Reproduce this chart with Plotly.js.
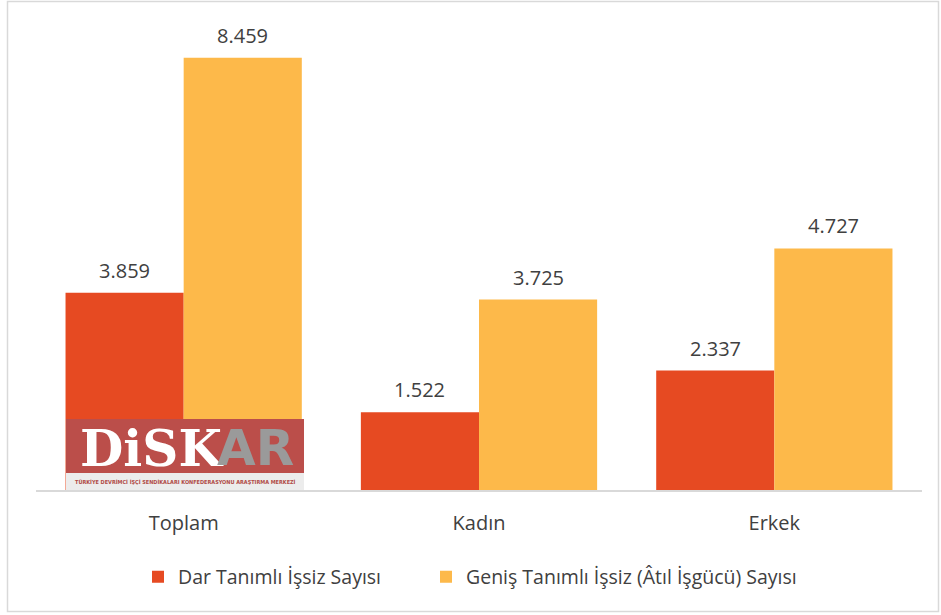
<!DOCTYPE html>
<html>
<head>
<meta charset="utf-8">
<script src="https://cdn.plot.ly/plotly-3.0.1.min.js"></script>
<style>
html,body{margin:0;padding:0;background:#fff;}
#chart{width:941px;height:615px;}
</style>
</head>
<body>
<div id="chart"></div>
<script>
const categories = ["Toplam", "Kadın", "Erkek"];
const seriesNames = ["Dar Tanımlı İşsiz Sayısı", "Geniş Tanımlı İşsiz (Âtıl İşgücü) Sayısı"];
const darValues = [3859, 1522, 2337];
const genisValues = [8459, 3725, 4727];
const colors = ["#E64A22", "#FDB94A"];

const FONT = "Open Sans, Noto Sans, sans-serif";
const TXT = "#404040";

const traces = [
  {type: "bar", name: seriesNames[0], x: categories, y: darValues, marker: {color: colors[0]}, hoverinfo: "none", legend: "legend"},
  {type: "bar", name: seriesNames[1], x: categories, y: genisValues, marker: {color: colors[1]}, hoverinfo: "none", legend: "legend2"}
];

const fmt = v => v.toLocaleString("de-DE");
const annotations = [];
[darValues, genisValues].forEach((vals, s) => {
  vals.forEach((v, i) => {
    annotations.push({
      x: i + (s === 0 ? -0.2 : 0.2), y: v, xref: "x", yref: "y",
      text: fmt(v), showarrow: false, yanchor: "bottom", yshift: 7,
      font: {family: FONT, size: 20, color: TXT}
    });
  });
});

// logo watermark
const px = v => (v - 36) / 886;
const py = v => (490 - v) / 460;
annotations.push({
  xref: "paper", yref: "paper", x: px(151), y: py(448), xanchor: "center", yanchor: "middle",
  text: "<b>DiSK</b>",
  showarrow: false, font: {family: "DejaVu Serif, serif", size: 50, color: "#ffffff"}
});
annotations.push({
  xref: "paper", yref: "paper", x: px(255), y: py(448), xanchor: "center", yanchor: "middle",
  text: "<b>AR</b>",
  showarrow: false, font: {family: "DejaVu Sans, sans-serif", size: 50, color: "#9a9a9a"}
});
annotations.push({
  xref: "paper", yref: "paper", x: px(185), y: py(482), xanchor: "center", yanchor: "middle",
  text: "<b>TÜRKİYE DEVRİMCİ İŞÇİ SENDİKALARI KONFEDERASYONU ARAŞTIRMA MERKEZİ</b>",
  showarrow: false, font: {family: "DejaVu Sans Condensed, sans-serif", size: 5.5, color: "#B04A45"}
});

const shapes = [
  {type: "rect", xref: "paper", yref: "paper", x0: px(66), x1: px(304), y0: py(473), y1: py(419),
   fillcolor: "#BB4E4A", line: {width: 0}, layer: "above"},
  {type: "rect", xref: "paper", yref: "paper", x0: px(66), x1: px(304), y0: py(490), y1: py(473),
   fillcolor: "#ECECEC", line: {width: 0}, layer: "above"},
  {type: "rect", xref: "paper", yref: "paper", x0: px(7.5), x1: px(938.5), y0: py(611.5), y1: py(1.5),
   fillcolor: "rgba(0,0,0,0)", line: {width: 1.5, color: "#D9D9D9"}, layer: "above"}
];

const legendBase = {orientation: "h", xanchor: "left", y: py(577), yanchor: "middle",
  font: {family: FONT, size: 19.5, color: TXT}, itemclick: false, bgcolor: "rgba(0,0,0,0)"};

const layout = {
  width: 941, height: 615,
  margin: {l: 36, r: 19, t: 30, b: 125},
  paper_bgcolor: "#ffffff", plot_bgcolor: "#ffffff",
  separators: ",.",
  barmode: "group", bargap: 0.2, bargroupgap: 0,
  showlegend: true,
  legend: Object.assign({}, legendBase, {x: px(138)}),
  legend2: Object.assign({}, legendBase, {x: px(426)}),
  xaxis: {type: "category", showline: true, linecolor: "#D9D9D9", linewidth: 1.5,
          ticks: "", ticklabelstandoff: 14, tickfont: {family: FONT, size: 20, color: TXT},
          fixedrange: true},
  yaxis: {range: [0, 9000], visible: false, showgrid: false, zeroline: false, fixedrange: true},
  annotations: annotations,
  shapes: shapes,
  font: {family: FONT, color: TXT}
};

Plotly.newPlot("chart", traces, layout, {staticPlot: true, displayModeBar: false});
</script>
</body>
</html>
